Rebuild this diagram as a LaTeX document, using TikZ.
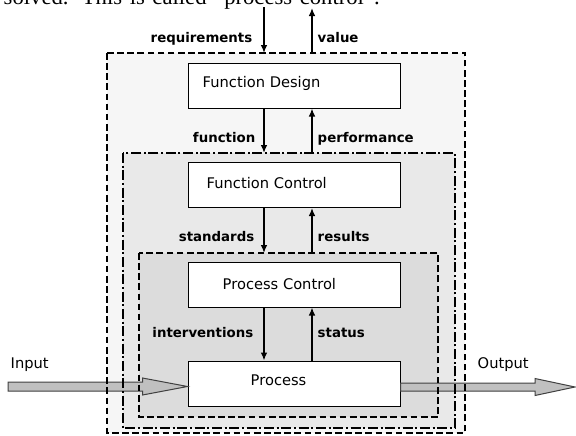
\documentclass[tikz,border=0pt]{standalone}
\usepackage{fontspec}
\setmainfont{DejaVu Sans}
\newfontfamily\bodyserif{Liberation Serif}
\usetikzlibrary{arrows.meta,calc}

\definecolor{designgray}{HTML}{F6F6F6}
\definecolor{controlgray}{HTML}{E9E9E9}
\definecolor{processgray}{HTML}{DCDCDC}
\definecolor{flowgray}{HTML}{C0C0C0}

\tikzset{
  stage/.style={draw, fill=white, line width=0.75pt, minimum width=159pt,
    minimum height=33.75pt, inner sep=0pt},
  stagetext/.style={font=\fontsize{11}{13}\selectfont, inner sep=0pt, anchor=base west},
  flowlabel/.style={font=\fontsize{10}{12}\selectfont\bfseries, inner sep=0pt},
  zone/.style={inner sep=0pt, outer sep=0pt},
  dashzone/.style={line width=1.5pt, dash pattern=on 5pt off 2.6pt},
  dotzone/.style={line width=1.5pt, dash pattern=on 7.5pt off 2pt on 1.5pt off 2pt},
  flowarrow/.style={fill=flowgray, draw=black!75, line width=0.75pt, line join=miter},
}

\begin{document}
\begin{tikzpicture}[x=0.75pt, y=-0.75pt, >={Latex[length=6pt,width=5pt]}, line width=1.1pt]
    \useasboundingbox (0,0) rectangle (576,436);
    \clip (0,0) rectangle (576,436);

    % running text above the figure
    \node[anchor=base west, inner sep=0pt, font=\bodyserif\fontsize{17}{20}\selectfont]
          (bodyline) at (3,4) {\hbox to 282pt{solved. This is called “process control”.}};

    % nested levels
    \node[zone, fill=designgray, minimum width=268.5pt, minimum height=285pt] (design) at (286,243) {};
    \node[zone, fill=controlgray, minimum width=249pt, minimum height=206.25pt] (control) at (289,290.5) {};
    \node[zone, fill=processgray, minimum width=224.25pt, minimum height=123pt] (inner) at (288.5,335) {};

    % stages
    \node[stage] (fd) at (294,85.5) {};
    \node[stage] (fc) at (294,185) {};
    \node[stage] (pc) at (294,284.5) {};
    \node[stage] (proc) at (294,383.5) {};
    \node[stagetext] (fd-text) at (202,87) {Function Design};
    \node[stagetext] (fc-text) at (206,188.5) {Function Control};
    \node[stagetext] (pc-text) at (222,289.5) {Process Control};
    \node[stagetext] (proc-text) at (250,385) {Process};

    % input and output flow
    \coordinate (in) at (8,386.5);
    \coordinate (out) at (575,387);
    \draw[flowarrow] (in) ++(0,-4.5) -- ($(proc.west |- in)+(-45,-4.5)$) -- ++(0,-4)
        -- (proc.west |- in) -- ($(proc.west |- in)+(-45,8.5)$) -- ++(0,-4)
        -- ($(in)+(0,4.5)$) -- cycle;
    \draw[flowarrow] ($(proc.east |- out)+(0,-4)$) -- ($(out)+(-40,-4)$) -- ++(0,-4.5)
        -- (out) -- ($(out)+(-40,8.5)$) -- ++(0,-4.5)
        -- ($(proc.east |- out)+(0,4)$) -- cycle;
    \node[stagetext] (in-text) at (10,368) {Input};
    \node[stagetext] (out-text) at (477,368) {Output};

    % level borders
    \draw[dashzone] (design.north west) rectangle (design.south east);
    \draw[dotzone] (control.north west) rectangle (control.south east);
    \draw[dashzone] (inner.north west) rectangle (inner.south east);

    % top level
    \coordinate (req) at (264,7);
    \coordinate (val) at (312,8);
    \draw[->] (req) -- (req |- design.north);
    \draw[->] (val |- design.north) -- (val);
    \node[flowlabel, anchor=base east] (req-label) at (253,42) {requirements};
    \node[flowlabel, anchor=base west] (val-label) at (317,42) {value};

    % design <-> control
    \draw[->] ([xshift=-22.5pt]fd.south) -- ([xshift=-22.5pt]fd.south |- control.north);
    \draw[->] ([xshift=13.5pt]fd.south |- control.north) -- ([xshift=13.5pt]fd.south);
    \node[flowlabel, anchor=base east] (function-label) at (256,142) {function};
    \node[flowlabel, anchor=base west] (performance-label) at (317,142) {performance};

    % control <-> process control
    \draw[->] ([xshift=-22.5pt]fc.south) -- ([xshift=-22.5pt]fc.south |- inner.north);
    \draw[->] ([xshift=13.5pt]fc.south |- inner.north) -- ([xshift=13.5pt]fc.south);
    \node[flowlabel, anchor=base east] (standards-label) at (255,241.5) {standards};
    \node[flowlabel, anchor=base west] (results-label) at (317,241.5) {results};

    % process control <-> process
    \draw[->] ([xshift=-22.5pt]pc.south) -- ([xshift=-22.5pt]proc.north);
    \draw[->] ([xshift=13.5pt]proc.north) -- ([xshift=13.5pt]pc.south);
    \node[flowlabel, anchor=base east] (interventions-label) at (254,337) {interventions};
    \node[flowlabel, anchor=base west] (status-label) at (317,337) {status};
\end{tikzpicture}
\end{document}
